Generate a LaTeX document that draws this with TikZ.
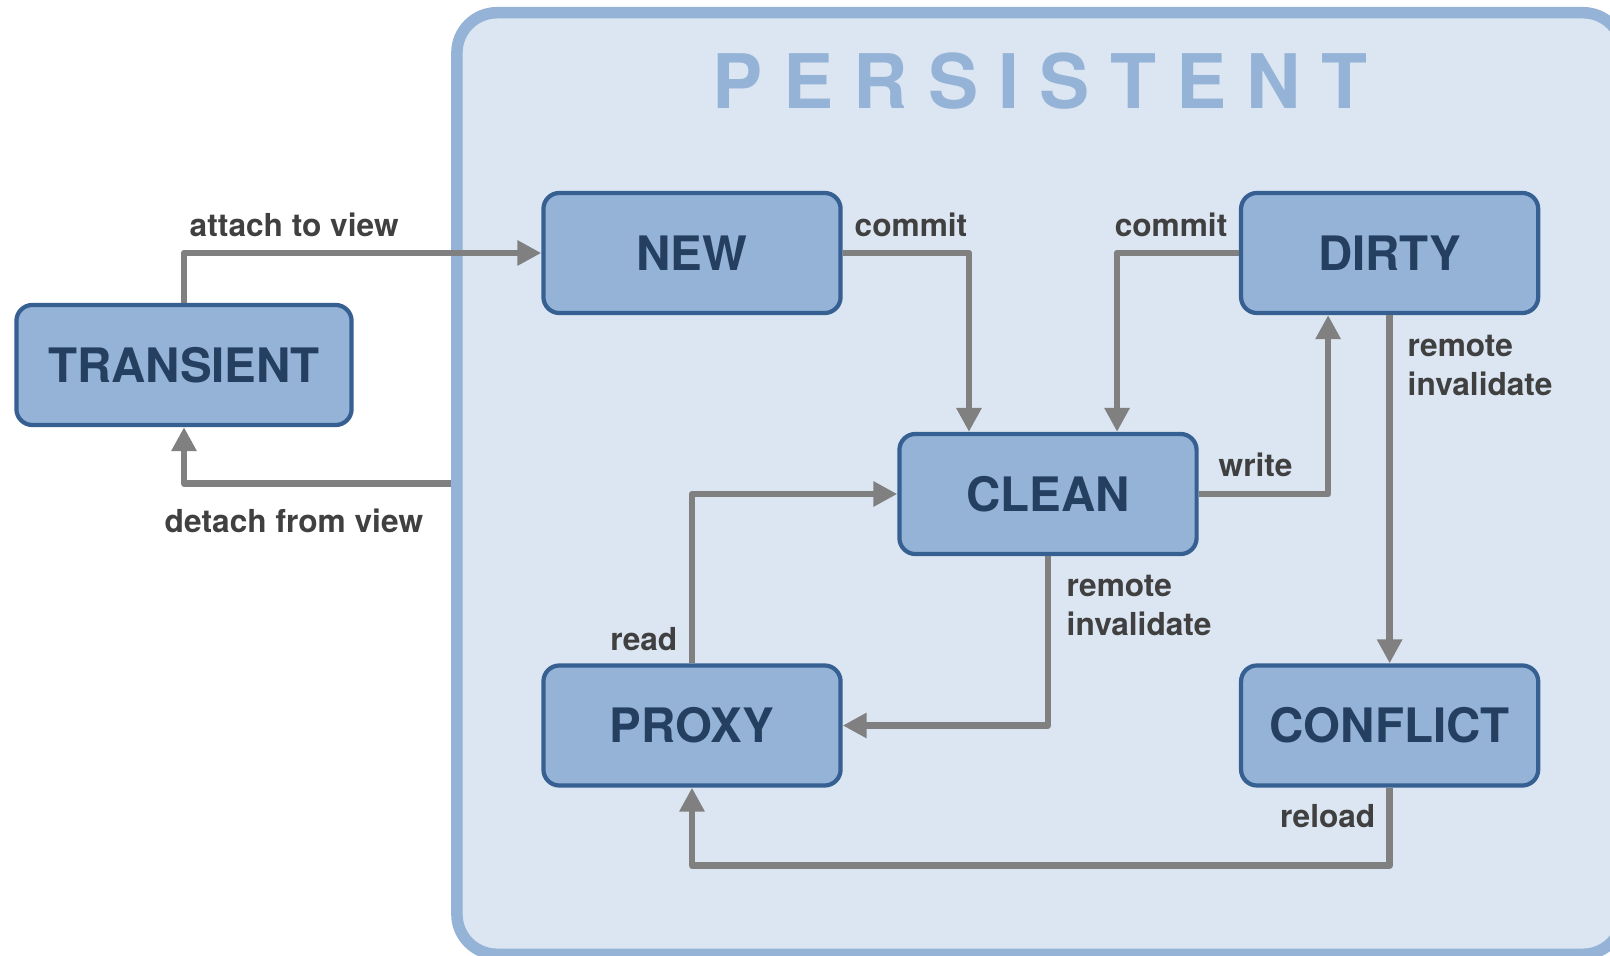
\documentclass[tikz,border=0pt]{standalone}
\usepackage{fontspec}
\setmainfont{TeX Gyre Heros}
\usetikzlibrary{positioning, arrows.meta}

\definecolor{boxfill}{HTML}{95B3D7}
\definecolor{boxline}{HTML}{376092}
\definecolor{boxtext}{HTML}{243F60}
\definecolor{zonefill}{HTML}{DCE6F2}
\definecolor{flowgray}{HTML}{808080}
\definecolor{labelgray}{HTML}{404040}

\begin{document}
\begin{tikzpicture}[
    x=0.01cm, y=-0.01cm,
    node distance=1cm,
    state/.style={rectangle, draw=boxline, fill=boxfill, line width=1.2pt, rounded corners=0.16cm, minimum width=2.97cm, minimum height=1.2cm, text=boxtext, font=\fontsize{13.5}{16}\selectfont\bfseries},
    flow/.style={draw=flowgray, line width=1.85pt, line join=round, -{Triangle[length=0.24cm, width=0.24cm]}},
    lbl/.style={text=labelgray, font=\fontsize{9}{11.1}\selectfont\bfseries, inner sep=0pt, align=left},
]

\useasboundingbox (0,0) rectangle (1610,955);

% Persistent area
\node [draw=boxfill, fill=zonefill, line width=3.27pt, rounded corners=0.40cm, minimum width=11.655cm, minimum height=9.41cm] (persistent) at (1040,483.5) {};
\node [text=boxfill, font=\fontsize{21.4}{24}\selectfont\bfseries\addfontfeature{LetterSpace=27}] (title) at (1040,81) {PERSISTENT};

% Nodes
\node [state, minimum width=3.35cm] (transient) at (184,365) {TRANSIENT};
\node [state] (new) at (692,253) {NEW};
\node [state, right=3.96cm of new] (dirty) {DIRTY};
\node [state] (clean) at (1048,494) {CLEAN};
\node [state, below=3.48cm of new] (proxy) {PROXY};
\node [state, below=3.48cm of dirty] (conflict) {CONFLICT};

% Lines
\draw [flow] (transient.north) |- (new.west);
\draw [flow] (persistent.west) -| (transient.south);
\draw [flow] (new.east) -| ([xshift=-0.79cm]clean.north);
\draw [flow] (dirty.west) -| ([xshift=0.69cm]clean.north);
\draw [flow] (clean.east) -| ([xshift=-0.615cm]dirty.south);
\draw [flow] (dirty.south) -- (conflict.north);
\draw [flow] (clean.south) |- (proxy.east);
\draw [flow] (proxy.north) |- (clean.west);
\coordinate [below=0.78cm of conflict.south] (reloadturn);
\draw [flow] (conflict.south) -- (reloadturn) -| (proxy.south);

% Labels
\node [lbl, anchor=west] (attachlbl) at (189,225) {attach to view};
\node [lbl, anchor=west] (detachlbl) at (164,521) {detach from view};
\node [lbl, anchor=west] (commitnew) at (854,225) {commit};
\node [lbl, anchor=east] (commitdirty) at (1228,225) {commit};
\node [lbl, anchor=west] (writelbl) at (1218,465) {write};
\node [lbl, anchor=west] (remotedirty) at (1407,365) {remote\\invalidate};
\node [lbl, anchor=west] (remoteclean) at (1066,605) {remote\\invalidate};
\node [lbl, anchor=east] (readlbl) at (678,639) {read};
\node [lbl, anchor=east] (reloadlbl) at (1376,816) {reload};

\end{tikzpicture}
\end{document}
